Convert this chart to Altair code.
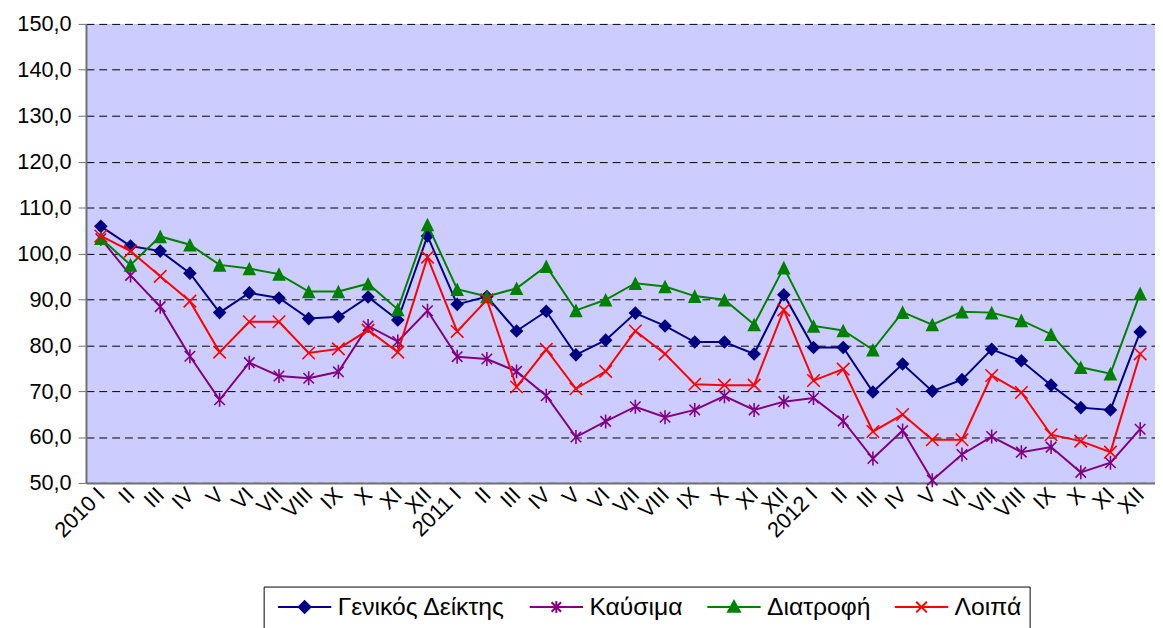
import json
import altair as alt
import pandas as pd

months = ["2010 I", "II", "III", "IV", "V", "VI", "VII", "VIII", "IX", "X", "XI", "XII",
          "2011 I", "II", "III", "IV", "V", "VI", "VII", "VIII", "IX", "X", "XI", "XII",
          "2012 I", "II", "III", "IV", "V", "VI", "VII", "VIII", "IX", "X", "XI", "XII"]

series = ["Γενικός Δείκτης", "Καύσιμα", "Διατροφή", "Λοιπά"]

genikos = [105.9, 101.6, 100.5, 95.7, 87.1, 91.4, 90.3, 85.8, 86.2, 90.5, 85.5, 103.8,
           88.9, 90.6, 83.1, 87.4, 77.9, 81.1, 87.0, 84.2, 80.7, 80.7, 78.1, 91.0,
           79.5, 79.5, 69.8, 75.9, 70.0, 72.5, 79.1, 76.6, 71.3, 66.4, 65.9, 82.9]
kausima = [103.2, 95.2, 88.4, 77.6, 68.1, 76.2, 73.3, 72.8, 74.2, 84.2, 80.8, 87.5,
           77.5, 77.0, 74.3, 69.0, 60.0, 63.4, 66.6, 64.3, 65.9, 68.9, 65.9, 67.7,
           68.5, 63.5, 55.3, 61.4, 50.6, 56.2, 60.1, 56.7, 57.8, 52.3, 54.4, 61.7]
diatrofi = [103.3, 97.5, 103.7, 101.9, 97.5, 96.7, 95.5, 91.7, 91.7, 93.4, 87.8, 106.3,
            92.2, 90.6, 92.4, 97.2, 87.6, 89.9, 93.5, 92.8, 90.7, 89.9, 84.5, 96.9,
            84.2, 83.2, 79.0, 87.2, 84.5, 87.3, 87.1, 85.4, 82.4, 75.2, 73.8, 91.3]
loipa = [103.8, 100.5, 95.0, 89.6, 78.5, 85.1, 85.1, 78.3, 79.2, 83.3, 78.5, 99.2,
         83.0, 89.9, 70.9, 79.1, 70.5, 74.3, 83.1, 78.1, 71.5, 71.3, 71.3, 87.7,
         72.3, 74.8, 61.2, 64.9, 59.4, 59.4, 73.4, 69.7, 60.5, 59.1, 56.7, 78.1]

colors = ["#000080", "#800080", "#008000", "#FF0000"]

rows = []
for name, vals in zip(series, [genikos, kausima, diatrofi, loipa]):
    for i, v in enumerate(vals):
        rows.append({"idx": i, "series": name, "value": v})
df = pd.DataFrame(rows)
n = len(months)

FONT = "Liberation Sans"

x_scale = alt.Scale(domain=[0, n], nice=False, zero=False)
y_scale = alt.Scale(domain=[50, 150], nice=False, zero=False)

y_axis = alt.Axis(values=list(range(50, 151, 10)),
                  labelExpr="replace(format(datum.value, '.1f'), '.', ',')",
                  title=None, domain=True, domainColor="#707070", domainWidth=2,
                  ticks=True, tickSize=8, tickColor="#707070", tickWidth=1,
                  grid=True, gridColor="black", gridDash=[8, 5], gridWidth=1,
                  labelFont=FONT, labelFontSize=22, labelColor="black", labelPadding=7)

label_axis = alt.Axis(values=[i + 0.5 for i in range(n)],
                      labelExpr=json.dumps(months) + "[floor(datum.value)]",
                      orient="bottom", title=None, ticks=False, grid=False,
                      domain=True, domainColor="#707070", domainWidth=2,
                      labelAngle=-45, labelAlign="right", labelBaseline="middle",
                      labelFont=FONT, labelFontSize=22, labelColor="black",
                      labelPadding=8, labelOverlap=False, labelFlush=False, labelBound=False)

base = alt.Chart(df).transform_calculate(pos="datum.idx + 0.5")
X = alt.X("pos:Q", scale=x_scale, axis=label_axis)
Y = alt.Y("value:Q", scale=y_scale, axis=y_axis)

diamond = "M0,-1L1,0L0,1L-1,0Z"
triangle = "M0,-1L1,1L-1,1Z"
asterisk = "M-0.75,-0.75L0.75,0.75M-0.75,0.75L0.75,-0.75M0,-1L0,1"
xcross = "M-1,-1L1,1M-1,1L1,-1"

marker_specs = [
    (series[0], diamond, colors[0], 190, True),
    (series[1], asterisk, colors[1], 200, False),
    (series[2], triangle, colors[2], 190, True),
    (series[3], xcross, colors[3], 160, False),
]

layers = []
for name, shp, col, sz, filled in marker_specs:
    sub = base.transform_filter(alt.datum.series == name)
    layers.append(sub.mark_line(strokeWidth=2, color=col).encode(x=X, y=Y))
    layers.append(sub.mark_point(
        shape=shp, size=sz, filled=filled, color=col, opacity=1, strokeWidth=1.6
    ).encode(x=X, y=Y))

legend_paths = [
    "M-1,0L8,0M3.5,-1L4.5,0L3.5,1L2.5,0Z",
    "M-1,0L8,0M2.7,-0.8L4.3,0.8M2.7,0.8L4.3,-0.8M3.5,-1L3.5,1",
    "M-1,0L8,0M3.5,-1L4.5,0.8L2.5,0.8Z",
    "M-1,0L8,0M2.6,-0.9L4.4,0.9M2.6,0.9L4.4,-0.9",
]

leg = alt.Legend(title=None, orient="none", legendX=180, legendY=570,
                 direction="horizontal", strokeColor="black", fillColor="white",
                 padding=8, labelFont=FONT, labelFontSize=25, labelColor="black",
                 labelOffset=42, columnPadding=18, symbolSize=144,
                 symbolStrokeWidth=2, labelLimit=600)

legend_layer = base.transform_filter("false").mark_point(
    filled=True, size=144, strokeWidth=2, opacity=1
).encode(
    x=X, y=Y,
    shape=alt.Shape("series:N", scale=alt.Scale(domain=series, range=legend_paths), legend=leg),
    fill=alt.Fill("series:N", scale=alt.Scale(domain=series, range=colors), legend=leg),
    stroke=alt.Stroke("series:N", scale=alt.Scale(domain=series, range=colors), legend=leg),
)

chart = alt.layer(*layers, legend_layer).properties(
    width=1083, height=465,
    padding={"left": 8, "top": 1, "right": 0, "bottom": 5},
).configure_view(
    fill="#CCCCFF", strokeWidth=0
)

chart.save("out.html", embed_options={"renderer": "svg", "actions": False})
